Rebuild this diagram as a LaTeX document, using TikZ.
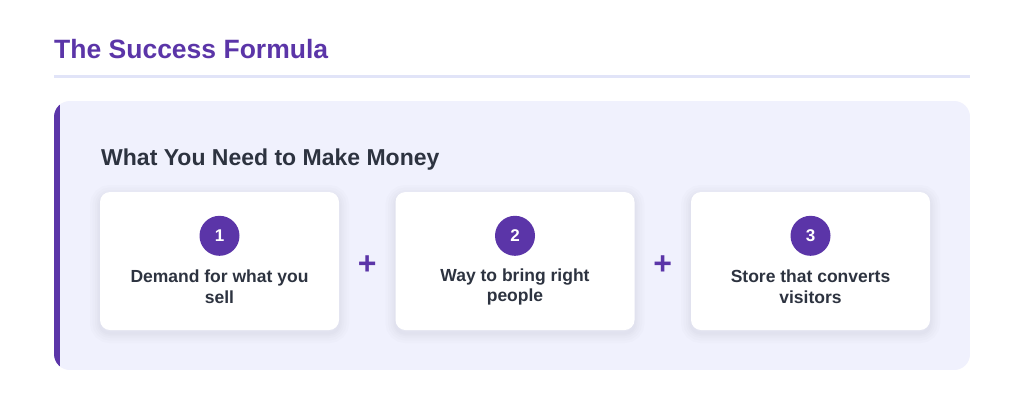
\documentclass[tikz,border=0pt]{standalone}
\usepackage{fontspec}
\setmainfont{Liberation Sans}
\usepackage{xcolor}
\usetikzlibrary{positioning,calc}
\definecolor{brandpurple}{HTML}{5B35A8}
\definecolor{panelbg}{HTML}{F0F1FD}
\definecolor{rulecol}{HTML}{E1E4F8}
\definecolor{inkdark}{HTML}{2D3340}
\definecolor{shadowcol}{HTML}{5A5F8C}

\begin{document}
\begin{tikzpicture}[x=1pt, y=-1pt, node distance=295.5pt, on grid,
    softshade/.style={preaction={draw=shadowcol, draw opacity=0.018, line width=#1, transform canvas={yshift=-3pt}}},
    card/.style={rectangle, rounded corners=10pt, fill=white, minimum width=239pt, minimum height=138pt,
      softshade=20pt, softshade=15pt, softshade=10pt, softshade=6pt, softshade=3pt},
    numdot/.style={circle, fill=brandpurple, minimum size=40pt, inner sep=0pt, text=white,
      font=\fontsize{17}{19}\selectfont\bfseries},
    cardtext/.style={align=center, text=inkdark, font=\fontsize{17.5}{20.5}\selectfont\bfseries},
    plussign/.style={text=brandpurple, font=\fontsize{32}{32}\selectfont\bfseries}]
  \useasboundingbox (0,0) rectangle (1024,402);
  \fill[white] (0,0) rectangle (1024,402);

  % title and rule
  \node[anchor=base west, inner sep=0pt, text=brandpurple, font=\fontsize{26.5}{32}\selectfont\bfseries]
    (title) at (54,58) {The Success Formula};
  \coordinate (ruleL) at (54,76);
  \coordinate (ruleR) at (970,76);
  \draw[rulecol, line width=3pt] (ruleL) -- (ruleR);

  % panel with purple edge
  \begin{scope}
    \clip[rounded corners=16pt] (54,101) rectangle (970,370);
    \fill[panelbg] (54,101) rectangle (970,370);
    \fill[brandpurple] (54,101) rectangle (59.5,370);
  \end{scope}
  \node[anchor=base west, inner sep=0pt, text=inkdark, font=\fontsize{23}{26}\selectfont\bfseries]
    (heading) at (101,165) {What You Need to Make Money};

  % the three cards
  \node[card] (c1) at (219.5,261) {};
  \node[card] (c2) [right=of c1] {};
  \node[card] (c3) [right=of c2] {};

  \node[numdot] (n1) at ($(c1.north)+(0,44)$) {1};
  \node[numdot] (n2) at ($(c2.north)+(0,44)$) {2};
  \node[numdot] (n3) at ($(c3.north)+(0,44)$) {3};

  \node[cardtext] (t1) at ($(c1.north)+(0,95)$) {Demand for what you\\sell};
  \node[cardtext] (t2) at ($(c2.north)+(0,95)$) {Way to bring right\\people};
  \node[cardtext] (t3) at ($(c3.north)+(0,95)$) {Store that converts\\visitors};

  \node[plussign] (p1) at ($(c1.east)!0.5!(c2.west)+(0,4)$) {+};
  \node[plussign] (p2) at ($(c2.east)!0.5!(c3.west)+(0,4)$) {+};
\end{tikzpicture}
\end{document}
